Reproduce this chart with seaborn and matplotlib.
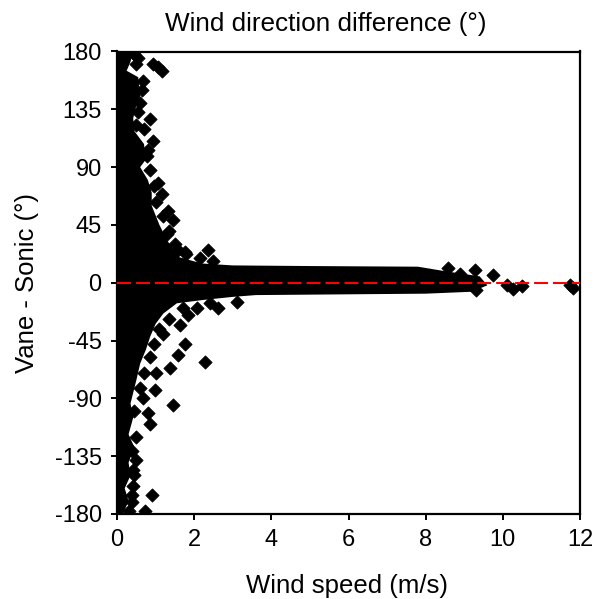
import matplotlib
matplotlib.use("Agg")
import matplotlib.pyplot as plt
import seaborn as sns
import pandas as pd

# Outline of the dense (saturated) cloud of points: speed (m/s), difference (deg)
cloud_speed = [0.42, 0.35, 0.25, 0.55, 0.6, 0.5, 0.42, 0.45, 0.7, 0.75, 0.6, 0.8, 0.9, 0.9,
               1.1, 1.3, 1.6, 2.2, 3.0, 5.0, 7.8, 8.5, 9.4, 9.6, 9.2, 8.0, 3.6, 3.0, 2.2,
               1.55, 1.2, 1.0, 0.86, 0.75, 0.6, 0.5, 0.35, 0.42, 0.3, 0.45, 0.3, 0.35, 0.2,
               0.3, 0.15, 0.0, 0.0]
cloud_angle = [180, 172, 165, 160, 145, 138, 128, 118, 108, 96, 90, 80, 70, 60,
               45, 33, 20, 15, 13.5, 13, 12.5, 9, 5, -2, -7, -8.5, -9.6, -11, -13.5,
               -16, -24, -32, -42, -52, -63, -76, -94, -105, -118, -128, -140, -150, -160,
               -170, -180, -180, 180]

# Individual observations at the edge of, and outside, the dense cloud
pt_speed = [0.93, 1.16, 1.05, 0.68, 0.86, 0.94, 0.77, 1.07, 1.16, 1.33, 1.46, 1.58, 2.36, 2.15,
            1.8, 1.3, 0.6, 0.55, 0.7, 0.5,
            1.63, 1.84, 2.07, 2.62, 3.1, 1.76, 1.58, 2.28, 1.37, 1.45, 0.98, 0.68, 0.8, 0.86,
            0.38, 0.42, 0.42, 0.9, 0.38, 0.73, 1.2, 1.0,
            8.58, 8.89, 9.28, 9.75, 10.1, 10.27, 10.49, 11.74, 11.82, 9.3,
            0.45, 0.5, 0.65, 0.55, 0.5, 0.8, 0.85, 0.95, 1.0, 1.2, 1.35, 1.5, 1.75, 2.5,
            0.3, 0.4, 0.45, 0.5, 0.5, 0.45, 0.6, 0.7, 0.85, 0.95, 1.1, 1.35, 1.7, 2.4]
pt_angle = [170.6, 165, 168, 157, 127.6, 110, 98.8, 78, 69, 55.5, 49, 25.8, 25.3, 19.6,
            22, 38, 140, 175, 120, 105,
            -32.9, -25, -19.8, -19.6, -15, -47.8, -56.6, -62, -66.5, -95.5, -83.7, -90, -101, -109.6,
            -130.7, -146, -158, -165, -171, -178, -40, -70,
            11.7, 7, 10, 6, -1.6, -5, -2.9, -1.6, -4, -6,
            178, 170, 150, 133, 123, 103, 88, 75, 63, 52, 40, 30, 24, 17,
            -178, -165, -150, -138, -120, -100, -82, -70, -58, -48, -36, -28, -20, -15.5]

x_ticks = [0, 2, 4, 6, 8, 10, 12]
y_ticks = [-180, -135, -90, -45, 0, 45, 90, 135, 180]

sns.set_theme(style="white")
plt.rcParams['font.family'] = ['Liberation Sans', 'DejaVu Sans']
plt.rcParams['axes.unicode_minus'] = False

fig = plt.figure(figsize=(6.03, 5.99), dpi=100)
ax = fig.add_axes([117/603, 1 - 514/599, (580-117)/603, (514-51.5)/599])

ax.fill(cloud_speed, cloud_angle, color="black", lw=0, zorder=2)
df = pd.DataFrame({"speed": pt_speed, "diff": pt_angle})
sns.scatterplot(data=df, x="speed", y="diff", marker="D", s=45, color="black",
                edgecolor="black", linewidth=0.6, ax=ax, zorder=3)
ax.axhline(0, color="#ff0000", lw=1.5, linestyle=(0, (6.7, 2.4)), zorder=4)

ax.set_xlim(0, 12)
ax.set_ylim(-180, 180)
ax.set_xticks(x_ticks)
ax.set_yticks(y_ticks)
for s in ax.spines.values():
    s.set_color("black")
    s.set_linewidth(1.6)
ax.tick_params(direction="out", length=4, width=1.4, color="black", labelsize=17,
               pad=7, bottom=True, left=True, labelcolor="black")
ax.set_xlabel("")
ax.set_ylabel("")
fig.text(347/603, 1 - 593/599, "Wind speed (m/s)", fontsize=18.5, color="black",
         ha="center", va="baseline")
fig.text(27/603, 1 - 283/599, "Vane - Sonic (°)", fontsize=18.5, color="black",
         ha="center", va="center", rotation=90)
fig.text(326/603, 1 - 31/599, "Wind direction difference (°)", fontsize=18.8,
         color="black", ha="center", va="baseline")

fig.savefig("out.png", dpi=100, facecolor="white")
